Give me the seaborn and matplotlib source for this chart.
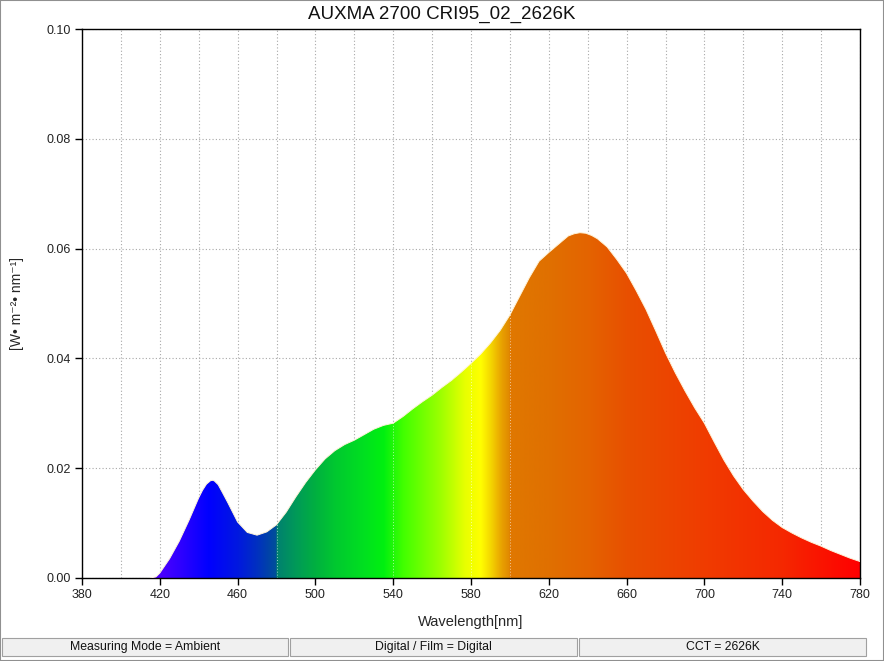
import matplotlib
matplotlib.use("Agg")
import matplotlib.pyplot as plt
import numpy as np
import pandas as pd
import seaborn as sns
from matplotlib.colors import LinearSegmentedColormap
from matplotlib.patches import Polygon, Rectangle

TITLE = "AUXMA 2700 CRI95_02_2626K"
STATUS_TEXTS = ["Measuring Mode = Ambient", "Digital / Film = Digital", "CCT = 2626K"]

WAVELENGTHS = [
    415, 418, 420, 425, 430, 435, 440, 442, 444, 446, 447, 448, 450, 452, 455, 460, 465, 470, 475,
    480, 485, 490, 495, 500, 505, 510, 515, 520, 525, 530, 535, 540, 545, 550,
    555, 560, 565, 570, 575, 580, 585, 590, 595, 600, 605, 610, 615, 620, 625,
    630, 633, 636, 639, 642, 645, 650, 655, 660, 665, 670, 675, 680, 685, 690, 695, 700,
    705, 710, 715, 720, 725, 730, 735, 740, 745, 750, 755, 760, 765, 770, 775, 780,
]
IRRADIANCE = [
    0.0, 0.0002, 0.0009, 0.0035, 0.0067, 0.0105, 0.0146, 0.0160, 0.0171, 0.0177, 0.0178, 0.0177,
    0.0170, 0.0157, 0.0137, 0.0102, 0.0083, 0.0078, 0.0084, 0.0097, 0.0120, 0.0148, 0.0174, 0.0197,
    0.0217, 0.0232, 0.0243, 0.0251, 0.0261, 0.0271, 0.0278, 0.0282, 0.0294, 0.0308,
    0.0321, 0.0333, 0.0347, 0.0360, 0.0375, 0.0391, 0.0408, 0.0428, 0.0451, 0.0479,
    0.0513, 0.0547, 0.0577, 0.0593, 0.0608, 0.0623, 0.0627, 0.0629, 0.0628, 0.0624, 0.0618, 0.0603,
    0.0580, 0.0555, 0.0523, 0.0489, 0.0450, 0.0410, 0.0374, 0.0341, 0.0310, 0.0282,
    0.0248, 0.0215, 0.0186, 0.0161, 0.0140, 0.0121, 0.0105, 0.0092, 0.0082, 0.0073,
    0.0065, 0.0058, 0.0050, 0.0043, 0.0036, 0.0030,
]

# spectral colour stops (wavelength, colour)
COLOR_WL = [380, 415, 430, 445, 460, 470, 479.9, 480, 490, 500, 510, 525, 535, 545,
            565, 577, 585, 590, 596, 599.9, 600, 620, 640, 660, 700, 740, 780]
COLOR_HEX = ["#5a00ff", "#5a00ff", "#3000ff", "#0000ff", "#0018e0", "#0030c0", "#005098",
             "#008070", "#009a58", "#00b040", "#00c830", "#00e020", "#00f010", "#40ff00",
             "#a0ff00", "#e8ff00", "#ffff00", "#f5d800", "#e8a000", "#e08800", "#e07800",
             "#e07000", "#e46400", "#e85000", "#f03c00", "#f52800", "#ff0000"]

X_MIN, X_MAX = 380, 780
Y_MAX = 0.10


def main() -> None:
    sns.set_theme(style="white")
    plt.rcParams["font.family"] = ["Liberation Sans", "DejaVu Sans"]

    frame = pd.DataFrame({"wavelength": WAVELENGTHS, "irradiance": IRRADIANCE})

    fig = plt.figure(figsize=(8.84, 6.61), dpi=100)
    fig.patch.set_facecolor("white")
    ax = fig.add_axes([82 / 884, 83 / 661, 778 / 884, 549 / 661])

    # gradient fill clipped to the spectrum
    stops = [((w - X_MIN) / (X_MAX - X_MIN), c) for w, c in zip(COLOR_WL, COLOR_HEX)]
    cmap = LinearSegmentedColormap.from_list("spectrum", stops, N=1024)
    gradient = np.linspace(0, 1, 1024)[None, :]
    im = ax.imshow(gradient, cmap=cmap, aspect="auto", extent=[X_MIN, X_MAX, 0, Y_MAX],
                   origin="lower", zorder=2, interpolation="bilinear")
    verts = np.column_stack([
        np.r_[frame["wavelength"].values, frame["wavelength"].values[::-1]],
        np.r_[frame["irradiance"].values, np.zeros(len(frame))],
    ])
    poly = Polygon(verts, closed=True, facecolor="none", edgecolor="none", transform=ax.transData)
    ax.add_patch(poly)
    im.set_clip_path(poly)

    sns.lineplot(data=frame, x="wavelength", y="irradiance", ax=ax, color="#fff4d8",
                 linewidth=0.7, zorder=3)

    # faint band seams inside the fill
    for w in [480, 540, 580, 600]:
        seam = ax.axvline(w, color="white", linestyle=(0, (1, 2)), linewidth=0.7, alpha=0.6, zorder=2.5)
        seam.set_clip_path(poly)

    ax.set_xlim(X_MIN, X_MAX)
    ax.set_ylim(0, Y_MAX)
    ax.set_xticks(np.arange(X_MIN, X_MAX + 1, 40))
    ax.set_xticks(np.arange(X_MIN, X_MAX + 1, 20), minor=True)
    ax.set_yticks(np.arange(0, Y_MAX + 0.001, 0.02))
    ax.yaxis.set_major_formatter(matplotlib.ticker.FormatStrFormatter("%.2f"))
    ax.grid(True, which="both", axis="x", color="#a8a8a8", linestyle=(0, (1, 2)), linewidth=0.8, zorder=1)
    ax.grid(True, which="major", axis="y", color="#a8a8a8", linestyle=(0, (1, 2)), linewidth=0.8, zorder=1)
    ax.set_axisbelow(True)
    ax.tick_params(axis="both", which="major", direction="out", length=5, width=1, color="black",
                   labelsize=9, labelcolor="#222222", left=True, bottom=True, pad=3)
    ax.tick_params(axis="x", which="minor", length=0)
    for spine in ax.spines.values():
        spine.set_color("black")
        spine.set_linewidth(1.0)

    ax.set_xlabel("Wavelength[nm]", fontsize=10.5, labelpad=10)
    ax.set_ylabel("[W\u2022 m\u207b\u00b2\u2022 nm\u207b\u00b9]", fontsize=10, labelpad=16)
    fig.text(0.5, 1 - 14 / 661, TITLE, ha="center", va="center", fontsize=13.5, color="#111111")

    # status bar
    boxes = [(2, 288), (290, 577), (579, 866)]
    for (x0, x1), label in zip(boxes, STATUS_TEXTS):
        fig.patches.append(Rectangle((x0 / 884, 5 / 661), (x1 - x0) / 884, 18 / 661,
                                     transform=fig.transFigure, facecolor="#f0f0f0",
                                     edgecolor="#a0a0a0", linewidth=0.8))
        fig.text((x0 + x1) / 2 / 884, 14 / 661, label, ha="center", va="center",
                 fontsize=8.8, color="#111111")
    fig.patches.append(Rectangle((0, 0), 1, 1, transform=fig.transFigure, facecolor="none",
                                 edgecolor="#909090", linewidth=1.5))

    fig.savefig("out.png", dpi=100, facecolor="white")
    plt.close(fig)


if __name__ == "__main__":
    main()
